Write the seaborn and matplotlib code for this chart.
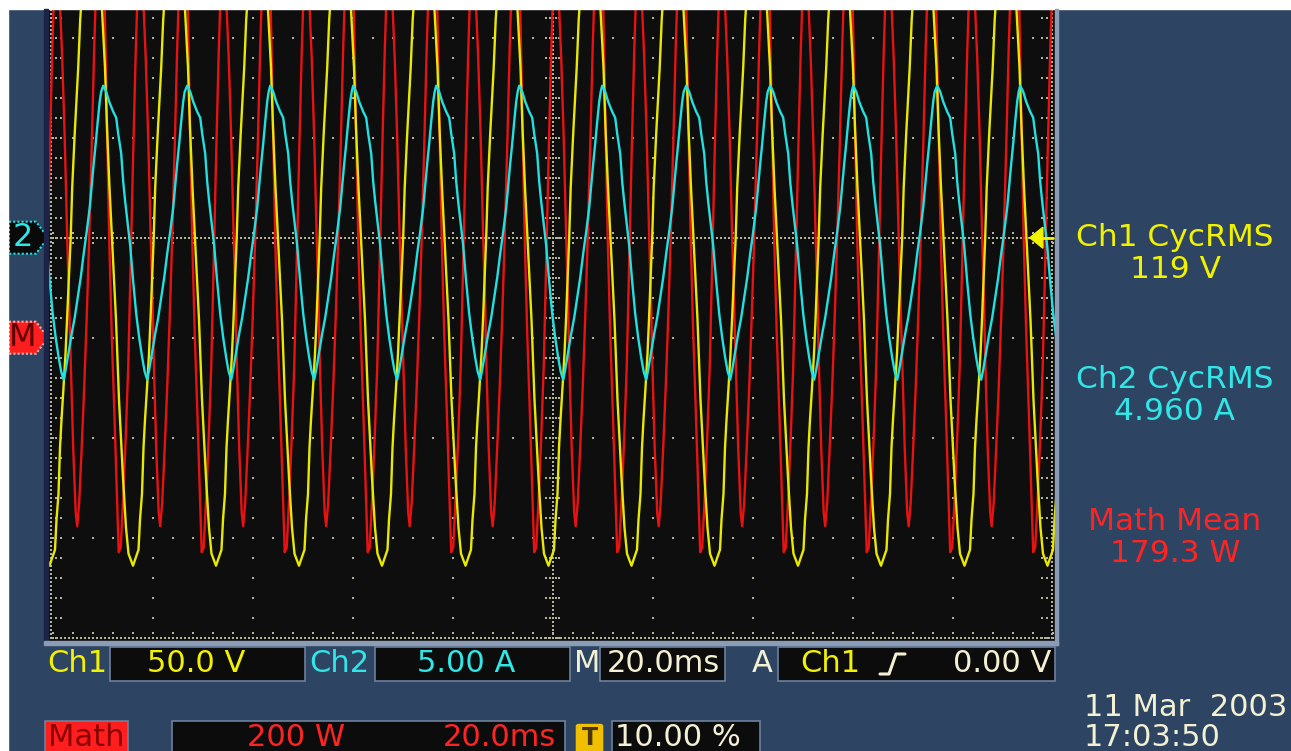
import numpy as np
import pandas as pd
import matplotlib
matplotlib.use("Agg")
import matplotlib.pyplot as plt
import matplotlib.transforms as mtransforms
from matplotlib.patches import Polygon, Rectangle, FancyBboxPatch
from matplotlib.lines import Line2D
import seaborn as sns

# ---- one period of each trace ----
# Ch1 voltage, time in ms from the rising zero crossing
ch1_cycle_ms = [0.0, 0.3, 0.8, 1.5, 1.9, 2.6, 3.1, 3.6, 4.16, 4.7, 5.2, 5.7, 6.26, 6.86,
                7.26, 7.76, 8.26, 9.06, 9.66, 10.16, 10.46, 11.06, 11.56, 12.46, 13.56,
                13.86, 14.26, 14.56, 14.86, 15.26, 15.66, 15.96]
ch1_cycle_volts = [0, 25, 52, 85, 109, 135, 150, 160, 165, 160, 150, 135, 114, 85,
                   55, 25, 0, -41, -81, -106, -120, -145, -158, -164, -156,
                   -141, -128, -105, -91, -75, -58, -41]
ch1_cycle_starts_ms = [-113.1, -96.4, -79.8, -63.2, -46.6, -29.9, -13.3, 3.3, 19.9,
                       36.6, 53.2, 69.9, 86.5]

# Ch2 current, time in ms from the positive peak
ch2_cycle_ms = [0.0, 0.6, 1.2, 2.0, 2.6, 3.0, 3.6, 4.0, 4.4, 5.0, 5.4, 6.0, 6.6, 7.2,
                7.8, 8.3, 8.8, 9.2, 9.8, 10.4, 11.0, 11.6, 12.2, 12.8, 13.4, 14.0,
                14.4, 14.8, 15.2, 15.6, 16.0, 16.3]
ch2_cycle_amps = [7.6, 7.3, 6.8, 6.3, 6.0, 5.2, 4.2, 2.8, 1.8, 0.5, -0.4, -2.2, -3.8, -5.0,
                  -6.0, -6.7, -7.1, -6.6, -5.7, -4.8, -4.0, -3.0, -2.0, -0.8, 0.3, 1.5,
                  2.6, 3.7, 4.7, 5.8, 6.8, 7.3]
ch2_cycle_starts_ms = [-106.6, -89.9, -73.1, -56.5, -39.9, -23.3, -6.7, 9.9, 26.7,
                       43.5, 60.1, 76.9, 93.5]

# Math (Ch1 x Ch2) power, time in ms from the Ch1 rising zero crossing
math_cycle_ms = [0.0, 0.5, 1.0, 1.3, 1.7, 2.2, 2.7, 3.2, 3.7, 4.2, 4.7, 5.2, 5.7, 6.2,
                 6.7, 7.2, 7.7, 8.2, 8.7, 9.2, 9.6, 10.0, 10.5, 11.0, 11.5, 12.0, 12.5,
                 13.0, 13.5, 14.0, 14.5, 15.0, 15.5, 16.0, 16.4]
math_cycle_watts = [-40, -220, -350, -377, -330, -220, -100, 40, 200, 380, 580, 740, 860, 880,
                    720, 450, 200, 10, -140, -300, -429, -420, -320, -200, -60, 150, 370,
                    570, 730, 770, 680, 560, 400, 200, 60]
math_cycle_starts_ms = ch1_cycle_starts_ms

# scope settings
ms_per_div = 20.0
ch1_volts_per_div = 50.0
ch2_amps_per_div = 5.0
math_watts_per_div = 200.0
math_offset_div = -1.0

# readouts
meas_labels = ["Ch1 CycRMS", "Ch2 CycRMS", "Math Mean"]
meas_values = ["119 V", "4.960 A", "179.3 W"]
date_text = "11 Mar  2003"
time_text = "17:03:50"

W, H = 1291, 751
PANEL = "#2d4562"
SCREEN = "#0e0e0e"
YEL, CYA, RED = "#e8e800", "#22e0e0", "#e81212"
TYEL, TCYA, TRED, CREAM = "#f2f200", "#30e6e6", "#ff2424", "#f4f0d4"
GRID = "#b4b49c"

sns.set_theme(style="ticks")
plt.rcParams['font.family'] = ['DejaVu Sans']


def fx(px):
    return px / W


def fy(py):
    return 1 - py / H


def build(cycle_t, cycle_v, starts):
    t = np.concatenate([s + np.array(cycle_t) for s in starts])
    v = np.tile(np.array(cycle_v, dtype=float), len(starts))
    return pd.DataFrame({"t": t, "v": v})


fig = plt.figure(figsize=(W / 100, H / 100), dpi=100, facecolor=PANEL)
ax = fig.add_axes([fx(48), fy(641), fx(1055) - fx(48), fy(9) - fy(641)])
ax.set_facecolor(SCREEN)
ax.set_xticks([])
ax.set_yticks([])
ax.grid(False)
for s in ax.spines.values():
    s.set_visible(False)

# ---- graticule ----
ytop = 2.29
dot = dict(ls="none", marker="s", ms=1.8, mew=0, color=GRID, zorder=1)
for xd in range(-4, 5):
    if xd == 0:
        continue
    ax.plot(np.full(32, xd * ms_per_div), np.arange(-4, ytop, 0.2), **dot)
for yd in [-3, -2, -1, 1, 2]:
    ax.plot(np.arange(-100, 100.1, 4), np.full(51, yd), **dot)
# centre lines with ticks
xs = np.arange(-100, 100.1, 0.8)
ax.plot(xs, np.zeros_like(xs), **dot)
ys = np.arange(-4, ytop, 0.04)
ax.plot(np.zeros_like(ys), ys, **dot)
for xt in np.arange(-100, 100.1, 4):
    ax.plot([xt, xt], [-0.05, 0.05], **dot)
for yt in np.arange(-4, ytop, 0.2):
    ax.plot([-1.3, -0.6, 0.6, 1.3], [yt] * 4, **dot)
# borders with inward ticks
ax.plot(np.full_like(ys, -100.4), ys, **dot)
ax.plot(np.full_like(ys, 99.9), ys, **dot)
ax.plot(xs, np.full_like(xs, -4.0), **dot)
for yt in np.arange(-4, ytop, 0.2):
    ax.plot([-99.4, -98.4], [yt, yt], **dot)
    ax.plot([98.9, 97.9], [yt, yt], **dot)
for xt in np.arange(-100, 100.1, 4):
    ax.plot([xt], [-3.95], **dot)

# ---- traces ----
ch1 = build(ch1_cycle_ms, ch1_cycle_volts, ch1_cycle_starts_ms)
ch2 = build(ch2_cycle_ms, ch2_cycle_amps, ch2_cycle_starts_ms)
mth = build(math_cycle_ms, math_cycle_watts, math_cycle_starts_ms)
ch1["div"] = ch1["v"] / ch1_volts_per_div
ch2["div"] = ch2["v"] / ch2_amps_per_div
mth["div"] = mth["v"] / math_watts_per_div + math_offset_div

sns.lineplot(data=mth, x="t", y="div", ax=ax, color=RED, lw=1.7, estimator=None,
             sort=False, legend=False, zorder=3)
sns.lineplot(data=ch1, x="t", y="div", ax=ax, color=YEL, lw=1.7, estimator=None,
             sort=False, legend=False, zorder=4)
sns.lineplot(data=ch2, x="t", y="div", ax=ax, color=CYA, lw=1.7, estimator=None,
             sort=False, legend=False, zorder=5)
ax.set_xlabel("")
ax.set_ylabel("")
ax.set_xlim(-100.94, 100.46)
ax.set_ylim(-4.033, 2.287)

# trigger level arrow (Ch1, 0 V)
tr = ax.get_yaxis_transform()
ax.add_patch(Polygon([(0.975, 0), (0.988, 0.105), (0.988, -0.105)], closed=True,
                     transform=tr, color=TYEL, zorder=6))
ax.plot([0.985, 0.998], [0, 0], transform=tr, color=TYEL, lw=2, zorder=6)

# ---- frame decorations ----
fig.patches.append(Rectangle((0, fy(9)), 1, 1, transform=fig.transFigure, color="white"))
fig.patches.append(Rectangle((0, 0), fx(8), 1, transform=fig.transFigure, color="white"))
fig.patches.append(Rectangle((fx(44), fy(641)), fx(4), fy(9) - fy(641),
                             transform=fig.transFigure, color="#1b2346"))
fig.patches.append(Rectangle((fx(44), fy(645)), fx(1058) - fx(44), 4 / H,
                             transform=fig.transFigure, color="#8a9cb6"))
fig.patches.append(Rectangle((fx(1055), fy(645)), fx(3), fy(9) - fy(645),
                             transform=fig.transFigure, color="#8a9cb6"))

# ground markers on the left, y in divisions
bt = mtransforms.blended_transform_factory(fig.transFigure, ax.transData)
def marker(ydiv, face, edge):
    pts = [(fx(9), ydiv + 0.16), (fx(36), ydiv + 0.16), (fx(48), ydiv),
           (fx(36), ydiv - 0.16), (fx(9), ydiv - 0.16)]
    fig.add_artist(Polygon(pts, closed=True, transform=bt, facecolor=face,
                           edgecolor=edge, lw=1.5, ls=(0, (1, 1))))
marker(0.0, "#0a0a0a", CYA)
fig.text(fx(23), 0, "2", transform=bt, color=TCYA, fontsize=23, ha="center", va="center")
marker(math_offset_div, "#ff1e1e", "#ffb0b0")
fig.text(fx(23), math_offset_div, "M", transform=bt, color="#5a0000", fontsize=23,
         ha="center", va="center")

# ---- measurement readouts on the right ----
for i, (lab, val, col) in enumerate(zip(meas_labels, meas_values, [TYEL, TCYA, TRED])):
    y0 = 238 + i * 142
    fig.text(fx(1175), fy(y0), lab, color=col, fontsize=22.5, ha="center", va="center")
    fig.text(fx(1175), fy(y0 + 32), val, color=col, fontsize=22.5, ha="center", va="center")

# ---- status bar ----
def box(x0, x1, y0, y1, face="#0c0c0c"):
    fig.patches.append(Rectangle((fx(x0), fy(y1)), fx(x1) - fx(x0), fy(y0) - fy(y1),
                                 transform=fig.transFigure, facecolor=face,
                                 edgecolor="#6f819b", lw=1.2))

for x0, x1 in [(110, 305), (375, 570), (600, 725), (778, 1055)]:
    box(x0, x1, 647, 681)
for x0, x1 in [(172, 565), (612, 760)]:
    box(x0, x1, 721, 760)
box(45, 128, 721, 760, face="#ff1e1e")

fs = 22
r1, r2 = 664, 738
fig.text(fx(47), fy(r1), "Ch1", color=TYEL, fontsize=fs, va="center")
fig.text(fx(196), fy(r1), "50.0 V", color=TYEL, fontsize=fs, va="center", ha="center")
fig.text(fx(309), fy(r1), "Ch2", color=TCYA, fontsize=fs, va="center")
fig.text(fx(466), fy(r1), "5.00 A", color=TCYA, fontsize=fs, va="center", ha="center")
fig.text(fx(574), fy(r1), "M", color=CREAM, fontsize=fs, va="center")
fig.text(fx(663), fy(r1), "20.0ms", color=CREAM, fontsize=fs, va="center", ha="center")
fig.text(fx(752), fy(r1), "A", color=CREAM, fontsize=fs, va="center")
fig.text(fx(800), fy(r1), "Ch1", color=TYEL, fontsize=fs, va="center")
fig.add_artist(Line2D([fx(880), fx(889), fx(896), fx(905)],
                      [fy(674), fy(674), fy(654), fy(654)], color=CREAM, lw=2.2))
fig.text(fx(1051), fy(r1), "0.00 V", color=CREAM, fontsize=fs, va="center", ha="right")

fig.text(fx(86), fy(r2), "Math", color="#8a0000", fontsize=fs, va="center", ha="center")
fig.text(fx(296), fy(r2), "200 W", color=TRED, fontsize=fs, va="center", ha="center")
fig.text(fx(556), fy(r2), "20.0ms", color=TRED, fontsize=fs, va="center", ha="right")
fig.patches.append(FancyBboxPatch((fx(579), fy(751)), fx(21), fy(726) - fy(751),
                                  boxstyle="round,pad=0.002", transform=fig.transFigure,
                                  facecolor="#f0c000", edgecolor="#f0c000"))
fig.text(fx(589.5), fy(r2), "T", color="#4a3500", fontsize=17, va="center", ha="center",
         fontweight="bold")
fig.text(fx(615), fy(r2), "10.00 %", color=CREAM, fontsize=fs, va="center")

fig.text(fx(1084), fy(707), date_text, color=CREAM, fontsize=fs, va="center")
fig.text(fx(1084), fy(738), time_text, color=CREAM, fontsize=fs, va="center")

fig.savefig("out.png", dpi=100, facecolor=fig.get_facecolor())
